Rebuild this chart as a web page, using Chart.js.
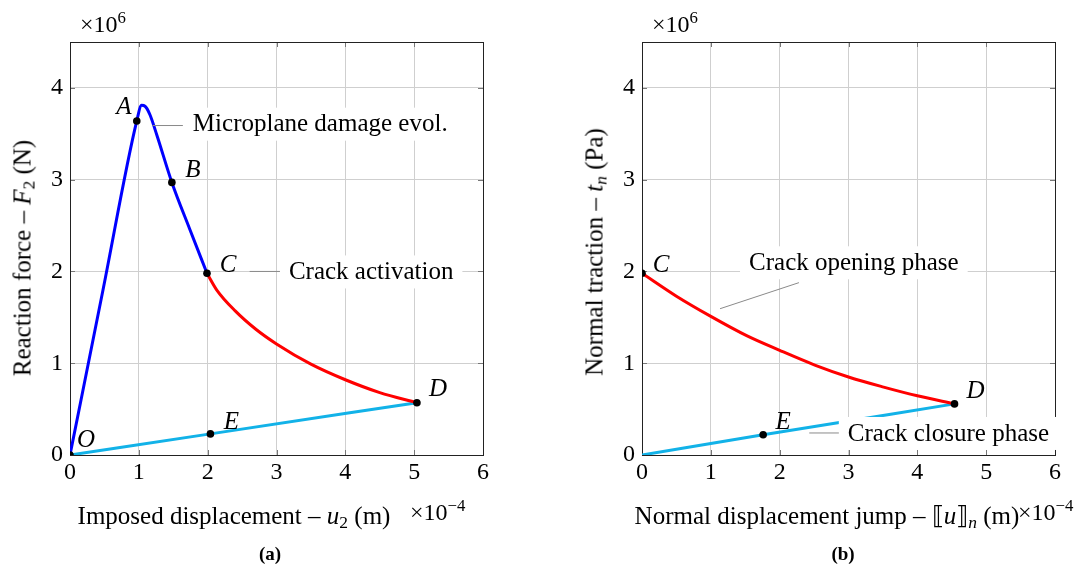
<!DOCTYPE html>
<html>
<head>
<meta charset="utf-8">
<script src="https://cdn.jsdelivr.net/npm/chart.js@4.4.1/dist/chart.umd.min.js"></script>
<style>
  body { margin: 0; background: #fff; }
  #wrap { position: relative; width: 1082px; height: 567px; font-family: 'Liberation Serif', serif; color: #000; overflow: hidden; }
  .pane { position: absolute; top: 0; width: 541px; height: 567px; }
  .txt { position: absolute; white-space: nowrap; font-size: 25px; line-height: 1; transform: translate(-50%, -50%); }
  .rot { transform: translate(-50%, -50%) rotate(-90deg); }
  .mul { position: absolute; white-space: nowrap; font-size: 24px; line-height: 1; transform: translateY(-50%); }
  .cap { font-size: 19px; font-weight: bold; }
  sub { font-size: 70%; vertical-align: -0.25em; line-height: 0; }
  sup { font-size: 70%; vertical-align: 0.55em; line-height: 0; }
</style>
</head>
<body>
<div id="wrap">
  <div class="pane" style="left:0"><canvas id="left"></canvas></div>
  <div class="pane" style="left:541px"><canvas id="right"></canvas></div>

  <div class="mul" style="left:80px; top:24px">×10<sup>6</sup></div>
  <div class="mul" style="left:652px; top:24px">×10<sup>6</sup></div>
  <div class="mul" style="left:410px; top:512px">×10<sup>−4</sup></div>
  <div class="mul" style="left:1018px; top:512px">×10<sup>−4</sup></div>

  <div class="txt" style="left:234px; top:515px">Imposed displacement – <i>u</i><sub>2</sub> (m)</div>
  <div class="txt" style="left:827px; top:515px">Normal displacement jump – ⟦<i>u</i>⟧<sub><i>n</i></sub> (m)</div>
  <div class="txt rot" style="left:22px; top:258px">Reaction force – <i>F</i><sub>2</sub> (N)</div>
  <div class="txt rot" style="left:594px; top:252px">Normal traction – <i>t</i><sub><i>n</i></sub> (Pa)</div>

  <div class="txt cap" style="left:270px; top:553px">(a)</div>
  <div class="txt cap" style="left:843px; top:553px">(b)</div>
</div>
<script>
// (a) reaction force vs imposed displacement  (x in 1e-4 m, y in 1e6 N)
const loadX = [0, 0.48, 0.97, 1.04, 1.09, 1.16, 1.26, 1.48, 1.74, 1.99];
const loadY = [0, 1.80, 3.64, 3.81, 3.80, 3.71, 3.49, 2.97, 2.46, 1.98];
const crackX = [1.99, 2.13, 2.4, 2.7, 3.0, 3.5, 4.0, 4.5, 5.04];
const crackY = [1.98, 1.80, 1.57, 1.37, 1.21, 0.99, 0.82, 0.68, 0.57];
const unloadX = [0, 2.04, 5.04];
const unloadY = [0, 0.23, 0.57];
const keyNamesA = ['O', 'A', 'B', 'C', 'D', 'E'];
const keyXA = [0, 0.97, 1.48, 1.99, 5.04, 2.04];
const keyYA = [0, 3.64, 2.97, 1.98, 0.57, 0.23];

// (b) normal traction vs normal displacement jump  (x in 1e-4 m, y in 1e6 Pa)
const openX = [0, 0.5, 1, 1.52, 2, 2.51, 3, 3.51, 4, 4.54];
const openY = [1.98, 1.73, 1.51, 1.30, 1.14, 0.98, 0.85, 0.74, 0.645, 0.557];
const closeX = [0, 1.76, 4.54];
const closeY = [0, 0.22, 0.557];
const keyNamesB = ['C', 'D', 'E'];
const keyXB = [0, 4.54, 1.76];
const keyYB = [1.98, 0.557, 0.22];

const xTicks = [0, 1, 2, 3, 4, 5, 6];
const yTicks = [0, 1, 2, 3, 4];

const FONT = "'Liberation Serif', serif";
const CYAN = '#12b2e8';

const pts = (xs, ys) => xs.map((x, i) => ({ x, y: ys[i] }));

const curve = (xs, ys, color) => ({
  data: pts(xs, ys),
  showLine: true,
  borderColor: color,
  borderWidth: 3,
  pointRadius: 0,
  cubicInterpolationMode: 'monotone',
  order: 1,
});

const marks = (xs, ys) => ({
  data: pts(xs, ys),
  showLine: false,
  pointRadius: 3.8,
  pointBackgroundColor: '#000',
  pointBorderWidth: 0,
  order: 0,
});

// frame, inner ticks, annotations and point letters
const decor = {
  id: 'decor',
  beforeDatasetsDraw(chart) {
    const { ctx, chartArea: a, scales } = chart;
    ctx.save();
    ctx.strokeStyle = '#777';
    ctx.lineWidth = 1;
    xTicks.forEach((t) => {
      const px = Math.round(scales.x.getPixelForValue(t)) + 0.5;
      ctx.beginPath();
      ctx.moveTo(px, a.top); ctx.lineTo(px, a.top + 5);
      ctx.moveTo(px, a.bottom); ctx.lineTo(px, a.bottom - 5);
      ctx.stroke();
    });
    yTicks.forEach((t) => {
      const py = Math.round(scales.y.getPixelForValue(t)) + 0.5;
      ctx.beginPath();
      ctx.moveTo(a.left, py); ctx.lineTo(a.left + 5, py);
      ctx.moveTo(a.right, py); ctx.lineTo(a.right - 5, py);
      ctx.stroke();
    });
    ctx.strokeStyle = '#222';
    ctx.strokeRect(Math.round(a.left) + 0.5, Math.round(a.top) + 0.5,
      Math.round(a.right - a.left), Math.round(a.bottom - a.top));
    ctx.restore();
  },
  afterDatasetsDraw(chart, args, opts) {
    const { ctx, scales } = chart;
    const X = (v) => scales.x.getPixelForValue(v);
    const Y = (v) => scales.y.getPixelForValue(v);
    ctx.save();
    ctx.font = '25px ' + FONT;
    ctx.textBaseline = 'middle';
    (opts.notes || []).forEach((n) => {
      const w = ctx.measureText(n.text).width;
      const tx = X(n.x), ty = Y(n.y);
      ctx.fillStyle = '#fff';
      ctx.fillRect(tx - 9, ty - 16, w + 18, 33);
      ctx.strokeStyle = '#8a8a8a';
      ctx.lineWidth = 1;
      ctx.beginPath();
      ctx.moveTo(X(n.pin[0][0]), Y(n.pin[0][1]));
      ctx.lineTo(X(n.pin[1][0]), Y(n.pin[1][1]));
      ctx.stroke();
      ctx.fillStyle = '#000';
      ctx.textAlign = 'left';
      ctx.fillText(n.text, tx, ty + 1);
    });
    ctx.font = 'italic 25px ' + FONT;
    ctx.textAlign = 'center';
    ctx.fillStyle = '#000';
    (opts.letters || []).forEach((l) => {
      ctx.fillText(l.name, X(l.x) + l.dx, Y(l.y) + l.dy);
    });
    ctx.restore();
  },
};

function build(id, datasets, yWidth, rightPad, notes, letters) {
  new Chart(document.getElementById(id), {
    type: 'scatter',
    data: { datasets },
    plugins: [decor],
    options: {
      responsive: true,
      maintainAspectRatio: false,
      animation: false,
      layout: { padding: { top: 42, right: rightPad, left: 0, bottom: 0 } },
      plugins: {
        legend: { display: false },
        tooltip: { enabled: false },
        decor: { notes, letters },
      },
      scales: {
        x: {
          type: 'linear', min: 0, max: 6,
          afterBuildTicks: (s) => { s.ticks = xTicks.map((v) => ({ value: v })); },
          afterFit: (s) => { s.height = 112; },
          ticks: { color: '#000', font: { family: FONT, size: 24 }, padding: 3, maxRotation: 0 },
          grid: { color: '#cfcfcf', drawTicks: false },
          border: { display: false },
        },
        y: {
          type: 'linear', min: 0, max: 4.5,
          afterBuildTicks: (s) => { s.ticks = yTicks.map((v) => ({ value: v })); },
          afterFit: (s) => { s.width = yWidth; },
          ticks: { color: '#000', font: { family: FONT, size: 24 }, padding: 7 },
          grid: { color: '#cfcfcf', drawTicks: false },
          border: { display: false },
        },
      },
    },
  });
}

const lettersA = keyNamesA.map((name, i) => ({ name, x: keyXA[i], y: keyYA[i] }));
const offA = { O: [16, -15], A: [-13, -14], B: [21, -12], C: [21, -8], D: [21, -13], E: [21, -11] };
lettersA.forEach((l) => { l.dx = offA[l.name][0]; l.dy = offA[l.name][1]; });

const lettersB = keyNamesB.map((name, i) => ({ name, x: keyXB[i], y: keyYB[i] }));
const offB = { C: [19, -8], D: [21, -12], E: [20, -12] };
lettersB.forEach((l) => { l.dx = offB[l.name][0]; l.dy = offB[l.name][1]; });

build('left', [
  curve(loadX, loadY, '#0000ff'),
  curve(crackX, crackY, '#ff0000'),
  curve(unloadX, unloadY, CYAN),
  marks(keyXA, keyYA),
], 70, 58, [
  { text: 'Microplane damage evol.', x: 1.785, y: 3.61, pin: [[1.20, 3.59], [1.64, 3.59]] },
  { text: 'Crack activation', x: 3.18, y: 2.0, pin: [[2.61, 2.0], [3.05, 2.0]] },
], lettersA);

build('right', [
  curve(openX, openY, '#ff0000'),
  curve(closeX, closeY, CYAN),
  marks(keyXB, keyYB),
], 101, 27, [
  { text: 'Crack opening phase', x: 1.555, y: 2.10, pin: [[1.134, 1.594], [2.28, 1.878]] },
  { text: 'Crack closure phase', x: 2.99, y: 0.24, pin: [[2.43, 0.24], [2.86, 0.24]] },
], lettersB);
</script>
</body>
</html>
